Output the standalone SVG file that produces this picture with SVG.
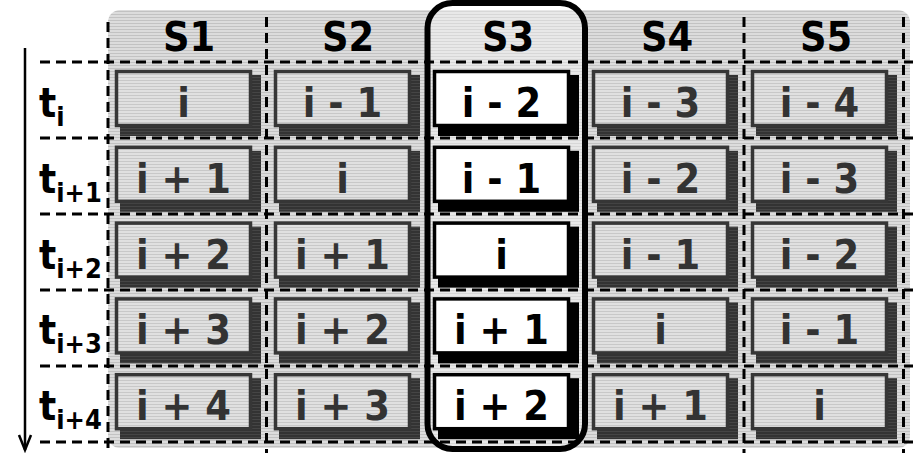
<svg xmlns="http://www.w3.org/2000/svg" width="913" height="453" viewBox="0 0 913 453">
<defs>
<pattern id="bgp" width="4" height="3" patternUnits="userSpaceOnUse"><rect width="4" height="3" fill="#dcdcdc"/><rect y="2" width="4" height="1" fill="#c2c2c2"/></pattern>
<pattern id="boxp" width="4" height="3" patternUnits="userSpaceOnUse"><rect width="4" height="3" fill="#e0e0e0"/><rect y="2" width="4" height="1" fill="#c8c8c8"/></pattern>
<pattern id="shp" width="4" height="3" patternUnits="userSpaceOnUse"><rect width="4" height="3" fill="#333"/><rect y="2" width="4" height="1" fill="#454545"/></pattern>
<marker id="arr" markerWidth="20" markerHeight="16" refX="17" refY="8" orient="auto" markerUnits="userSpaceOnUse" viewBox="0 0 20 16">
<path d="M2,2 L17,8 L2,14" fill="none" stroke="#000" stroke-width="2.5"/>
</marker>
</defs>
<style>
.dash{stroke:#000;stroke-width:3;stroke-dasharray:10 6;fill:none}
.gbox{fill:url(#boxp);stroke:#363636;stroke-width:3.5}
.gsh{fill:url(#shp)}
.wbox{fill:#fff;stroke:#000;stroke-width:3.5}
.wsh{fill:#000}
text{font-family:"DejaVu Sans Condensed","DejaVu Sans",Verdana,sans-serif;font-weight:bold;font-stretch:condensed}
.gt{font-size:41px;fill:#333;text-anchor:middle}
.wt{font-size:41px;fill:#000;text-anchor:middle}
.hd{font-size:41px;fill:#000;text-anchor:middle}
.lt{font-size:40px;fill:#000}
.ls{font-size:27px}
</style>
<rect x="108" y="10" width="802" height="438" rx="12" fill="url(#bgp)"/>
<g id="s3col">
<rect x="427.5" y="3" width="157.5" height="446" rx="25" fill="#fff" fill-opacity="0.35"/>
</g>
<g id="grid">
<path class="dash" d="M40,62H913M40,138H913M40,214H913M40,290H913M40,366H913M40,442H913"/>
<path class="dash" d="M108,22V453M266.5,17V453M744,17V453M903.5,17V453"/>
</g>
<g id="headers">
<text class="hd" x="189" y="51">S1</text>
<text class="hd" x="348" y="51">S2</text>
<text class="hd" x="508" y="51">S3</text>
<text class="hd" x="667" y="51">S4</text>
<text class="hd" x="826" y="51">S5</text>
</g>
<g id="labels">
<text class="lt" x="39" y="117">t<tspan class="ls" dy="9">i</tspan></text>
<text class="lt" x="39" y="192.8">t<tspan class="ls" dy="9">i+1</tspan></text>
<text class="lt" x="39" y="268.6">t<tspan class="ls" dy="9">i+2</tspan></text>
<text class="lt" x="39" y="344.4">t<tspan class="ls" dy="9">i+3</tspan></text>
<text class="lt" x="39" y="420.2">t<tspan class="ls" dy="9">i+4</tspan></text>
</g>
<g id="cells">
<g id="c11"><rect class="gsh" x="120" y="75" width="141" height="61"/><rect class="gbox" x="116.5" y="71.5" width="134" height="54"/><text class="gt" x="183.5" y="117">i</text></g>
<g id="c12"><rect class="gsh" x="279" y="75" width="141" height="61"/><rect class="gbox" x="275.5" y="71.5" width="134" height="54"/><text class="gt" x="342.5" y="117">i - 1</text></g>
<g id="c13"><rect class="wsh" x="438" y="75" width="141" height="61"/><rect class="wbox" x="434.5" y="71.5" width="134" height="54"/><text class="wt" x="501.5" y="117">i - 2</text></g>
<g id="c14"><rect class="gsh" x="597" y="75" width="141" height="61"/><rect class="gbox" x="593.5" y="71.5" width="134" height="54"/><text class="gt" x="660.5" y="117">i - 3</text></g>
<g id="c15"><rect class="gsh" x="756" y="75" width="141" height="61"/><rect class="gbox" x="752.5" y="71.5" width="134" height="54"/><text class="gt" x="819.5" y="117">i - 4</text></g>

<g id="c21"><rect class="gsh" x="120" y="150.8" width="141" height="61"/><rect class="gbox" x="116.5" y="147.3" width="134" height="54"/><text class="gt" x="183.5" y="192.8">i + 1</text></g>
<g id="c22"><rect class="gsh" x="279" y="150.8" width="141" height="61"/><rect class="gbox" x="275.5" y="147.3" width="134" height="54"/><text class="gt" x="342.5" y="192.8">i</text></g>
<g id="c23"><rect class="wsh" x="438" y="150.8" width="141" height="61"/><rect class="wbox" x="434.5" y="147.3" width="134" height="54"/><text class="wt" x="501.5" y="192.8">i - 1</text></g>
<g id="c24"><rect class="gsh" x="597" y="150.8" width="141" height="61"/><rect class="gbox" x="593.5" y="147.3" width="134" height="54"/><text class="gt" x="660.5" y="192.8">i - 2</text></g>
<g id="c25"><rect class="gsh" x="756" y="150.8" width="141" height="61"/><rect class="gbox" x="752.5" y="147.3" width="134" height="54"/><text class="gt" x="819.5" y="192.8">i - 3</text></g>

<g id="c31"><rect class="gsh" x="120" y="226.6" width="141" height="61"/><rect class="gbox" x="116.5" y="223.1" width="134" height="54"/><text class="gt" x="183.5" y="268.6">i + 2</text></g>
<g id="c32"><rect class="gsh" x="279" y="226.6" width="141" height="61"/><rect class="gbox" x="275.5" y="223.1" width="134" height="54"/><text class="gt" x="342.5" y="268.6">i + 1</text></g>
<g id="c33"><rect class="wsh" x="438" y="226.6" width="141" height="61"/><rect class="wbox" x="434.5" y="223.1" width="134" height="54"/><text class="wt" x="501.5" y="268.6">i</text></g>
<g id="c34"><rect class="gsh" x="597" y="226.6" width="141" height="61"/><rect class="gbox" x="593.5" y="223.1" width="134" height="54"/><text class="gt" x="660.5" y="268.6">i - 1</text></g>
<g id="c35"><rect class="gsh" x="756" y="226.6" width="141" height="61"/><rect class="gbox" x="752.5" y="223.1" width="134" height="54"/><text class="gt" x="819.5" y="268.6">i - 2</text></g>

<g id="c41"><rect class="gsh" x="120" y="302.4" width="141" height="61"/><rect class="gbox" x="116.5" y="298.9" width="134" height="54"/><text class="gt" x="183.5" y="344.4">i + 3</text></g>
<g id="c42"><rect class="gsh" x="279" y="302.4" width="141" height="61"/><rect class="gbox" x="275.5" y="298.9" width="134" height="54"/><text class="gt" x="342.5" y="344.4">i + 2</text></g>
<g id="c43"><rect class="wsh" x="438" y="302.4" width="141" height="61"/><rect class="wbox" x="434.5" y="298.9" width="134" height="54"/><text class="wt" x="501.5" y="344.4">i + 1</text></g>
<g id="c44"><rect class="gsh" x="597" y="302.4" width="141" height="61"/><rect class="gbox" x="593.5" y="298.9" width="134" height="54"/><text class="gt" x="660.5" y="344.4">i</text></g>
<g id="c45"><rect class="gsh" x="756" y="302.4" width="141" height="61"/><rect class="gbox" x="752.5" y="298.9" width="134" height="54"/><text class="gt" x="819.5" y="344.4">i - 1</text></g>

<g id="c51"><rect class="gsh" x="120" y="378.2" width="141" height="61"/><rect class="gbox" x="116.5" y="374.7" width="134" height="54"/><text class="gt" x="183.5" y="420.2">i + 4</text></g>
<g id="c52"><rect class="gsh" x="279" y="378.2" width="141" height="61"/><rect class="gbox" x="275.5" y="374.7" width="134" height="54"/><text class="gt" x="342.5" y="420.2">i + 3</text></g>
<g id="c53"><rect class="wsh" x="438" y="378.2" width="141" height="61"/><rect class="wbox" x="434.5" y="374.7" width="134" height="54"/><text class="wt" x="501.5" y="420.2">i + 2</text></g>
<g id="c54"><rect class="gsh" x="597" y="378.2" width="141" height="61"/><rect class="gbox" x="593.5" y="374.7" width="134" height="54"/><text class="gt" x="660.5" y="420.2">i + 1</text></g>
<g id="c55"><rect class="gsh" x="756" y="378.2" width="141" height="61"/><rect class="gbox" x="752.5" y="374.7" width="134" height="54"/><text class="gt" x="819.5" y="420.2">i</text></g>
</g>
<g id="s3frame">
<rect x="427.5" y="3" width="157.5" height="446" rx="25" fill="none" stroke="#000" stroke-width="6"/>
</g>
<g id="connectors">
<line x1="25" y1="48" x2="25" y2="450" stroke="#000" stroke-width="2.5" marker-end="url(#arr)"/>
</g>
</svg>
